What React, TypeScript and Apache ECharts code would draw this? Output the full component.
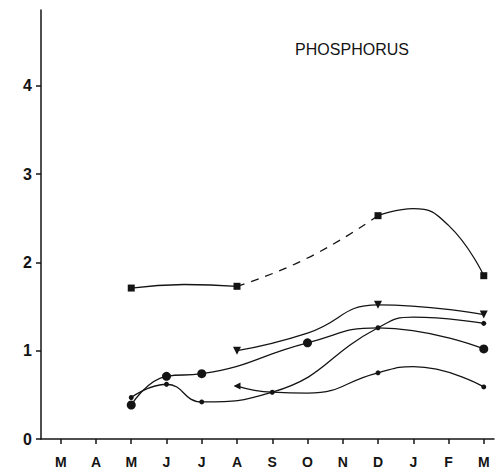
import React, { useEffect, useRef } from "react";
import * as echarts from "echarts";

// Month tick labels (March to March)
const months = ["M", "A", "M", "J", "J", "A", "S", "O", "N", "D", "J", "F", "M"];
const yTicks = [0, 1, 2, 3, 4];
const xTicks = [0, 1, 2, 3, 4, 5, 6, 7, 8, 9, 10, 11, 12];

// Series A (squares) – positions along the month axis and values
const aIdx = [2, 3.5, 5, 7, 9, 10, 11, 12];
const aVal = [1.71, 1.75, 1.73, 2.05, 2.53, 2.61, 2.42, 1.85];
const aMarked = [2, 5, 9, 12];

// Series B (downward triangles)
const bIdx = [5, 7, 9, 12];
const bVal = [1.0, 1.2, 1.52, 1.41];
const bMarked = [5, 9, 12];

// Series C (large circles)
const cIdx = [2, 3, 4, 7, 9, 12];
const cVal = [0.385, 0.71, 0.74, 1.09, 1.26, 1.02];
const cMarked = [2, 3, 4, 7, 12];

// Series D (small dots)
const dIdx = [2, 3, 4, 6, 9, 10, 12];
const dVal = [0.47, 0.62, 0.42, 0.53, 1.26, 1.38, 1.31];
const dMarked = [2, 3, 4, 6, 9, 12];

// Series E (small dots, triangle start)
const eIdx = [5, 6, 7, 9, 10, 12];
const eVal = [0.6, 0.53, 0.52, 0.75, 0.82, 0.59];
const eMarked = [5, 9, 12];

const INK = "#141414";

function buildData(
  idx: number[],
  val: number[],
  marked: number[],
  from: number,
  to: number,
  firstSymbol?: { symbol: string; rotate: number; size: number }
) {
  const out: any[] = [];
  idx.forEach((x, i) => {
    if (x < from || x > to) return;
    const item: any = { value: [x, val[i]] };
    if (!marked.includes(x)) item.symbol = "none";
    else if (firstSymbol && i === 0) {
      item.symbol = firstSymbol.symbol;
      item.symbolRotate = firstSymbol.rotate;
      item.symbolSize = firstSymbol.size;
    }
    out.push(item);
  });
  return out;
}

function line(
  name: string,
  data: any[],
  symbol: string,
  size: number,
  rotate: number,
  dashed: boolean
) {
  return {
    name,
    type: "line",
    smooth: 0.5,
    data,
    symbol,
    symbolSize: size,
    symbolRotate: rotate,
    showSymbol: true,
    itemStyle: { color: INK, borderWidth: 0 },
    lineStyle: {
      color: INK,
      width: 1.3,
      type: dashed ? [8, 7] : "solid",
    },
    z: 3,
  };
}

export default function App() {
  const ref = useRef<HTMLDivElement>(null);

  useEffect(() => {
    if (!ref.current) return;
    const chart = echarts.init(ref.current, undefined, { renderer: "svg" });
    const option: any = {
      animation: false,
      backgroundColor: "#ffffff",
      grid: { left: 41, right: 10, top: 10, bottom: 36, containLabel: false },
      xAxis: {
        type: "value",
        min: -0.56,
        max: 12.29,
        splitLine: { show: false },
        axisLine: { show: true, onZero: false, lineStyle: { color: INK, width: 1.5 } },
        axisTick: {
          show: true,
          customValues: xTicks,
          length: 5,
          inside: false,
          lineStyle: { color: INK, width: 1.5 },
        },
        axisLabel: {
          show: true,
          customValues: xTicks,
          margin: 16,
          color: INK,
          fontSize: 14,
          fontWeight: "bold",
          fontFamily: "Liberation Sans, Arial, sans-serif",
          formatter: (v: number) => months[Math.round(v)] ?? "",
        },
      },
      yAxis: {
        type: "value",
        min: 0,
        max: 4.86,
        splitLine: { show: false },
        axisLine: { show: true, onZero: false, lineStyle: { color: INK, width: 1.5 } },
        axisTick: {
          show: true,
          customValues: yTicks,
          length: 5,
          lineStyle: { color: INK, width: 1.5 },
        },
        axisLabel: {
          show: true,
          customValues: yTicks,
          margin: 9,
          color: INK,
          fontSize: 16,
          fontWeight: "bold",
          fontFamily: "Liberation Sans, Arial, sans-serif",
          formatter: (v: number) => String(Math.round(v)),
        },
      },
      graphic: [
        {
          type: "text",
          x: 352,
          y: 49,
          style: {
            text: "PHOSPHORUS",
            fill: INK,
            font: "16px 'Liberation Sans', Arial, sans-serif",
            textAlign: "center",
            textVerticalAlign: "middle",
          },
        },
      ],
      series: [
        line("A", buildData(aIdx, aVal, aMarked, 2, 5), "rect", 7, 0, false),
        line("A", buildData(aIdx, aVal, [], 5, 9), "rect", 7, 0, true),
        line("A", buildData(aIdx, aVal, aMarked, 9, 12), "rect", 7, 0, false),
        line("B", buildData(bIdx, bVal, bMarked, 0, 12), "triangle", 8, 180, false),
        line("C", buildData(cIdx, cVal, cMarked, 0, 12), "circle", 9, 0, false),
        line("D", buildData(dIdx, dVal, dMarked, 0, 12), "circle", 5, 0, false),
        line(
          "E",
          buildData(eIdx, eVal, eMarked, 0, 12, { symbol: "triangle", rotate: 90, size: 7 }),
          "circle",
          5,
          0,
          false
        ),
      ],
    };
    chart.setOption(option);
    return () => chart.dispose();
  }, []);

  return (
    <div
      ref={ref}
      style={{ position: "fixed", left: 0, top: 0, width: 504, height: 475, background: "#fff" }}
    />
  );
}
